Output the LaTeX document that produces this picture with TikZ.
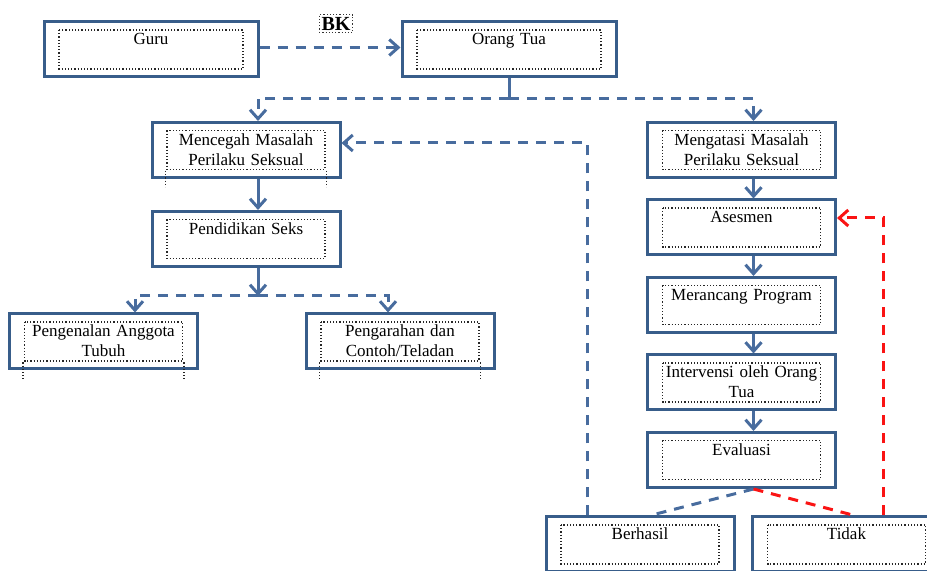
\documentclass[tikz,border=0pt]{standalone}
\usepackage{fontspec}
\setmainfont{Liberation Serif}
\usetikzlibrary{arrows.meta,positioning}
\definecolor{boxblue}{RGB}{56,93,138}
\definecolor{linkblue}{RGB}{72,108,158}
\definecolor{backred}{RGB}{250,20,20}

\begin{document}
\begin{tikzpicture}[x=0.5pt, y=0.5pt, node distance=38.75pt, >={Straight Barb[length=4.5pt,width=8pt]}]
\tikzstyle{process} = [rectangle, draw=boxblue, line width=1.5pt, minimum width=94pt, minimum height=27.5pt, inner sep=0pt, text width=86pt, align=center, text height=11.5pt, text depth=16pt, font=\fontsize{8.5}{10}\selectfont,
  path picture={\draw[black!85, densely dotted, line width=0.6pt] ([shift={(7.5pt,-4pt)}]path picture bounding box.north west) rectangle ([shift={(-7.5pt,4pt)}]path picture bounding box.south east);}]
\tikzstyle{widebox} = [process, minimum width=107pt, text width=100pt]
\tikzstyle{arrow} = [linkblue, line width=1.5pt, ->]
\tikzstyle{dasharrow} = [arrow, dash pattern=on 5pt off 4pt]
\tikzstyle{backarrow} = [dasharrow, backred]
\tikzstyle{spill} = [black!85, densely dotted, line width=0.6pt]

\useasboundingbox (0,0) rectangle (927,-571);

% top row
\node (Guru) [widebox] at (151,-49.5) {Guru};
\node (OrangTua) [widebox] at (509,-49.5) {Orang Tua};
\node (BK) [draw=black!80, densely dotted, line width=0.6pt, inner sep=1.2pt, font=\bfseries\fontsize{10}{11}\selectfont] at (336,-23.5) {BK};
\draw [dasharrow] ([yshift=1pt]Guru.east) -- ([yshift=1pt]OrangTua.west);

% left branch
\node (Mencegah) [process] at (246,-150) {Mencegah Masalah\\Perilaku Seksual};
\node (Pendidikan) [process] at (246,-239) {Pendidikan Seks};
\node (Pengenalan) [process] at (103.5,-341.5) {Pengenalan Anggota\\Tubuh};
\node (Pengarahan) [process] at (400,-341.5) {Pengarahan dan\\Contoh/Teladan};

% right branch
\node (Mengatasi) [process] at (741.5,-150) {Mengatasi Masalah\\Perilaku Seksual};
\node (Asesmen) [process, below of=Mengatasi] {Asesmen};
\node (Merancang) [process, below of=Asesmen] {Merancang Program};
\node (Intervensi) [process, below of=Merancang] {Intervensi oleh Orang\\Tua};
\node (Evaluasi) [process, below of=Intervensi] {Evaluasi};
\node (Berhasil) [process] at (640,-544.5) {Berhasil};
\node (Tidak) [process] at (846.5,-544.5) {Tidak};

% dotted frames running out of the boxes
\foreach \n/\h in {Mencegah/16, Pengenalan/17, Pengarahan/17} {
  \draw [spill] ([xshift=7.5pt,yshift=4pt]\n.south west) -- ++(0,-\h);
  \draw [spill] ([xshift=-7.5pt,yshift=4pt]\n.south east) -- ++(0,-\h);
}

% split below Orang Tua
\coordinate (split1) at ([yshift=-10pt]OrangTua.south);
\draw [linkblue, line width=1.5pt] (OrangTua.south) -- (split1);
\draw [dasharrow] (split1) -| ([xshift=6pt]Mencegah.north);
\draw [dasharrow] (split1) -| ([xshift=6pt]Mengatasi.north);

\draw [arrow] ([xshift=6pt]Mencegah.south) -- ([xshift=6pt]Pendidikan.north);
\coordinate (split2) at ([xshift=6pt,yshift=-14pt]Pendidikan.south);
\draw [arrow] ([xshift=6pt]Pendidikan.south) -- (split2);
\draw [dasharrow] (split2) -| ([xshift=15.75pt]Pengenalan.north);
\draw [dasharrow] (split2) -| ([xshift=-6pt]Pengarahan.north);

\foreach \a/\b in {Mengatasi/Asesmen, Asesmen/Merancang, Merancang/Intervensi, Intervensi/Evaluasi}
  \draw [arrow] ([xshift=6pt]\a.south) -- ([xshift=6pt]\b.north);

% result of evaluation
\draw [dasharrow, -] ([xshift=6pt]Evaluasi.south) -- ([xshift=5pt]Berhasil.north);
\draw [backarrow, -] ([xshift=6pt]Evaluasi.south) -- ([xshift=4pt]Tidak.north);
\draw [dasharrow] ([xshift=-26.5pt]Berhasil.north) |- ([yshift=3.5pt]Mencegah.east);
\draw [backarrow] ([xshift=18.25pt]Tidak.north) |- ([yshift=4.75pt]Asesmen.east);
\end{tikzpicture}
\end{document}
